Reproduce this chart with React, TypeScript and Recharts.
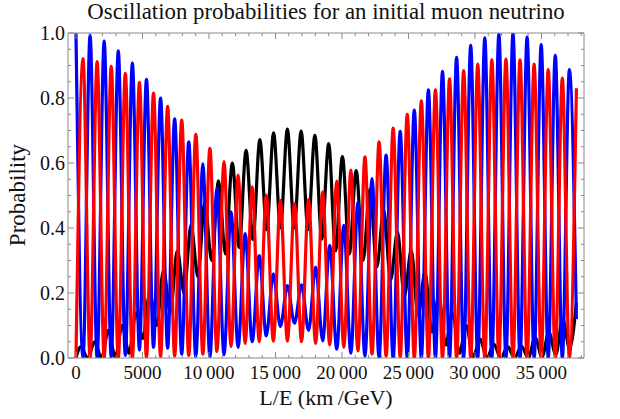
import React from "react";
import { LineChart, Line, XAxis, YAxis } from "recharts";

// extrema of the fast oscillation (km/GeV)
const halfPeriodL = [
  0, 530, 1060, 1590, 2120, 2650, 3180, 3710, 4240, 4770, 5300, 5830, 6360, 6890, 7420, 7950,
  8480, 9010, 9540, 10070, 10600, 11130, 11660, 12190, 12720, 13250, 13780, 14310, 14840, 15370,
  15900, 16430, 16960, 17490, 18020, 18550, 19080, 19610, 20140, 20670, 21200, 21730, 22260,
  22790, 23320, 23850, 24380, 24910, 25440, 25970, 26500, 27030, 27560, 28090, 28620, 29150,
  29680, 30210, 30740, 31270, 31800, 32330, 32860, 33390, 33920, 34450, 34980, 35510, 36040,
  36570, 37100, 37630,
];

// P(nu_mu -> nu_mu), blue
const muonSurvival = [
  1.0, 0, 0.993, 0, 0.975, 0.002, 0.945, 0.008, 0.907, 0.025, 0.857, 0.033, 0.8, 0.03, 0.736,
  0.012, 0.665, 0.004, 0.597, 0.003, 0.522, 0.01, 0.45, 0.033, 0.383, 0.05, 0.315, 0.068, 0.259,
  0.097, 0.223, 0.107, 0.225, 0.085, 0.28, 0.053, 0.346, 0.027, 0.408, 0.015, 0.48, 0.005, 0.552,
  0, 0.624, 0, 0.697, 0, 0.763, 0, 0.825, 0, 0.882, 0, 0.925, 0, 0.962, 0, 0.985, 0, 0.997, 0,
  1.0, 0, 0.987, 0, 0.964, 0, 0.931, 0, 0.887, 0.12,
];

// P(nu_mu -> nu_tau), red
const tauAppearance = [
  0, 0.921, 0, 0.912, 0, 0.897, 0, 0.876, 0, 0.848, 0.002, 0.815, 0.004, 0.774, 0.006, 0.732,
  0.008, 0.688, 0.012, 0.645, 0.02, 0.604, 0.035, 0.563, 0.045, 0.527, 0.05, 0.501, 0.052, 0.485,
  0.052, 0.475, 0.05, 0.488, 0.045, 0.511, 0.04, 0.544, 0.033, 0.578, 0.022, 0.619, 0.012, 0.665,
  0.006, 0.707, 0.003, 0.75, 0, 0.791, 0, 0.825, 0, 0.859, 0, 0.884, 0, 0.904, 0, 0.917, 0, 0.92,
  0, 0.917, 0, 0.904, 0, 0.887, 0, 0.861, 0, 0.83,
];

// P(nu_mu -> nu_e), black: its own extrema positions
const electronL = [
  0, 370, 887, 1405, 1922, 2440, 2957, 3475, 3992, 4510, 5027, 5545, 6062, 6580, 7097, 7615,
  8132, 8650, 9167, 9685, 10202, 10720, 11237, 11755, 12272, 12790, 13307, 13825, 14342, 14860,
  15377, 15895, 16412, 16930, 17447, 17965, 18482, 19000, 19517, 20035, 20552, 21070, 21587,
  22105, 22622, 23140, 23657, 24175, 24692, 25210, 25727, 26245, 26762, 27280, 27797, 28315,
  28832, 29350, 29867, 30385, 30902, 31420, 31937, 32455, 32972, 33490, 34007, 34525, 35042,
  35560, 36077, 36595, 37112, 37630,
];
const electronAppearance = [
  0, 0.035, 0, 0.05, 0, 0.085, 0.003, 0.1, 0.015, 0.14, 0.06, 0.2, 0.1, 0.27, 0.14, 0.33, 0.2,
  0.41, 0.25, 0.48, 0.3, 0.545, 0.32, 0.6, 0.34, 0.639, 0.365, 0.672, 0.395, 0.693, 0.4, 0.704,
  0.4, 0.698, 0.395, 0.685, 0.366, 0.66, 0.33, 0.62, 0.32, 0.577, 0.3, 0.52, 0.28, 0.455, 0.24,
  0.388, 0.19, 0.331, 0.13, 0.264, 0.08, 0.19, 0.04, 0.14, 0.015, 0.1, 0.003, 0.058, 0, 0.043, 0,
  0.035, 0, 0.037, 0, 0.063, 0.003, 0.08, 0.01, 0.12, 0.03, 0.17,
];

const xMajorTicks = [0, 5000, 10000, 15000, 20000, 25000, 30000, 35000];
const xTicks = [
  0, 1000, 2000, 3000, 4000, 5000, 6000, 7000, 8000, 9000, 10000, 11000, 12000, 13000, 14000,
  15000, 16000, 17000, 18000, 19000, 20000, 21000, 22000, 23000, 24000, 25000, 26000, 27000,
  28000, 29000, 30000, 31000, 32000, 33000, 34000, 35000, 36000, 37000, 38000,
];
const yMajorTicks = [0, 0.2, 0.4, 0.6, 0.8, 1];
const yTicks = [
  0, 0.05, 0.1, 0.15, 0.2, 0.25, 0.3, 0.35, 0.4, 0.45, 0.5, 0.55, 0.6, 0.65, 0.7, 0.75, 0.8, 0.85,
  0.9, 0.95, 1,
];

const muTauRows = halfPeriodL.map((L, i) => ({ L, mu: muonSurvival[i], tau: tauAppearance[i] }));
const electronRows = electronL.map((L, i) => ({ L, e: electronAppearance[i] }));

const FONT = '"Liberation Serif", "DejaVu Serif", serif';
const FRAME = "#8a8a8a";

const fmtX = (v: number) => (v >= 10000 ? `${Math.floor(v / 1000)}\u2009${String(v % 1000).padStart(3, "0")}` : `${v}`);

function BottomTick({ x, y, payload }: any) {
  const major = xMajorTicks.includes(payload.value);
  return (
    <g>
      <line x1={x} x2={x} y1={y} y2={y - (major ? 6 : 3)} stroke={FRAME} />
      {major && (
        <text x={x} y={y + 21} textAnchor="middle" fontFamily={FONT} fontSize={19} fill="#111">
          {fmtX(payload.value)}
        </text>
      )}
    </g>
  );
}

function TopTick({ x, y, payload }: any) {
  const major = xMajorTicks.includes(payload.value);
  return <line x1={x} x2={x} y1={y} y2={y + (major ? 6 : 3)} stroke={FRAME} />;
}

function LeftTick({ x, y, payload }: any) {
  const major = yMajorTicks.some((t) => Math.abs(t - payload.value) < 1e-6);
  return (
    <g>
      <line x1={x} x2={x + (major ? 6 : 3)} y1={y} y2={y} stroke={FRAME} />
      {major && (
        <text x={x - 3} y={y + 7} textAnchor="end" fontFamily={FONT} fontSize={20} fill="#111">
          {payload.value.toFixed(1)}
        </text>
      )}
    </g>
  );
}

function RightTick({ x, y, payload }: any) {
  const major = yMajorTicks.some((t) => Math.abs(t - payload.value) < 1e-6);
  return <line x1={x} x2={x - (major ? 6 : 3)} y1={y} y2={y} stroke={FRAME} />;
}

export default function App() {
  return (
    <div style={{ position: "absolute", left: 0, top: 0, width: 620, height: 419, background: "#fff" }}>
      <div
        style={{
          position: "absolute", left: 68, width: 516, top: -1, textAlign: "center",
          fontFamily: FONT, fontSize: 22.8, lineHeight: "26px", color: "#111", whiteSpace: "nowrap",
        }}
      >
        Oscillation probabilities for an initial muon neutrino
      </div>
      <div
        style={{
          position: "absolute", left: 18 - 70, top: 195 - 13, width: 140, textAlign: "center",
          transform: "rotate(-90deg)", fontFamily: FONT, fontSize: 23, lineHeight: "26px", color: "#111",
        }}
      >
        Probability
      </div>
      <div
        style={{
          position: "absolute", left: 68, width: 516, top: 385, textAlign: "center",
          fontFamily: FONT, fontSize: 22, lineHeight: "26px", color: "#111",
        }}
      >
        L/E (km{"\u2009"}/GeV)
      </div>
      <LineChart width={620} height={419} margin={{ top: 0, right: 0, bottom: 0, left: 0 }}>
        <XAxis
          xAxisId="bottom"
          dataKey="L"
          type="number"
          domain={[-600, 38200]}
          ticks={xTicks}
          interval={0}
          height={61}
          tickSize={0}
          tickMargin={0}
          tick={<BottomTick />}
          axisLine={{ stroke: FRAME }}
          allowDataOverflow
        />
        <XAxis
          xAxisId="top"
          orientation="top"
          dataKey="L"
          type="number"
          domain={[-600, 38200]}
          ticks={xTicks}
          interval={0}
          height={33}
          tickSize={0}
          tickMargin={0}
          tick={<TopTick />}
          axisLine={{ stroke: FRAME }}
          allowDataOverflow
        />
        <YAxis
          yAxisId="left"
          type="number"
          domain={[0, 1]}
          ticks={yTicks}
          interval={0}
          width={68}
          tickSize={0}
          tickMargin={0}
          tick={<LeftTick />}
          axisLine={{ stroke: FRAME }}
          allowDataOverflow
        />
        <YAxis
          yAxisId="right"
          orientation="right"
          type="number"
          domain={[0, 1]}
          ticks={yTicks}
          interval={0}
          width={36}
          tickSize={0}
          tickMargin={0}
          tick={<RightTick />}
          axisLine={{ stroke: FRAME }}
          allowDataOverflow
        />
        <Line
          xAxisId="bottom"
          yAxisId="left"
          data={electronRows}
          dataKey="e"
          type="monotone"
          stroke="#000000"
          strokeWidth={3.2}
          dot={false}
          isAnimationActive={false}
        />
        <Line
          xAxisId="bottom"
          yAxisId="left"
          data={muTauRows}
          dataKey="mu"
          type="monotone"
          stroke="#0000ff"
          strokeWidth={3.2}
          dot={false}
          isAnimationActive={false}
        />
        <Line
          xAxisId="bottom"
          yAxisId="left"
          data={muTauRows}
          dataKey="tau"
          type="monotone"
          stroke="#ff0000"
          strokeWidth={3.2}
          dot={false}
          isAnimationActive={false}
        />
      </LineChart>
    </div>
  );
}
